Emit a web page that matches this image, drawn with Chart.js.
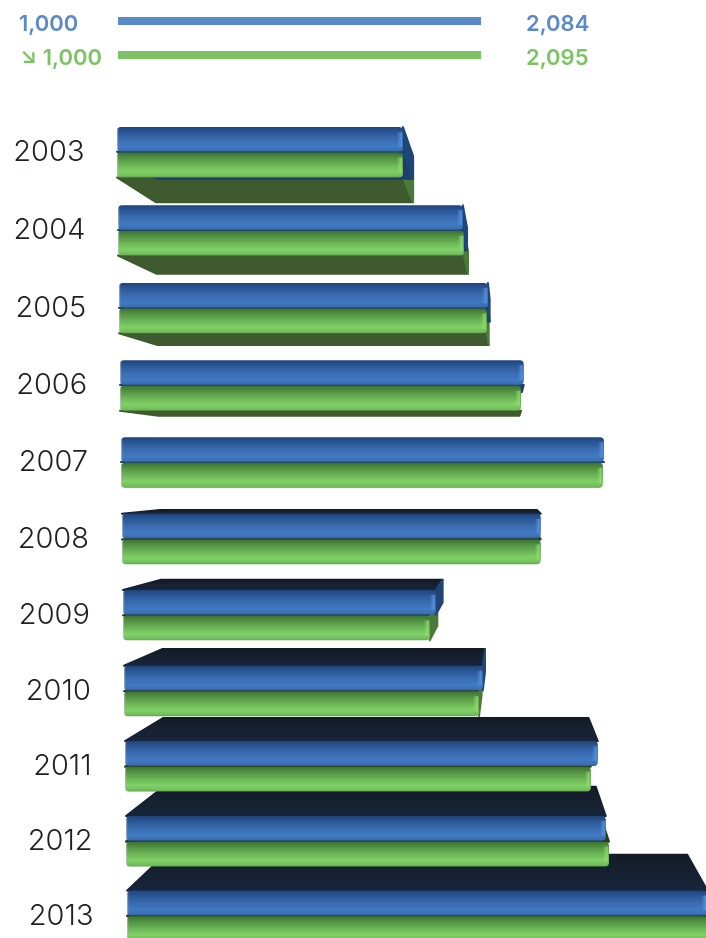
<!DOCTYPE html>
<html>
<head>
<meta charset="utf-8">
<title>Chart</title>
<script src="https://cdn.jsdelivr.net/npm/chart.js@4/dist/chart.umd.min.js"></script>
<style>
    html, body { margin: 0; padding: 0; width: 706px; height: 938px; overflow: hidden; background: #fff; }
    #wrap { position: relative; width: 706px; height: 938px; overflow: hidden; }
    canvas { position: absolute; left: 0; top: 0; }
    .lg { position: absolute; font: 600 22px Inter, sans-serif; line-height: 24px; white-space: nowrap; }
    .bar { position: absolute; left: 118px; width: 363px; height: 8px; }
    .blue { color: #5b8ac9; }
    .green { color: #7cc463; }
</style>
</head>
<body>
<div id="wrap">
    <canvas id="chart" width="706" height="960"></canvas>
    <div id="legend"></div>
</div>
<script>
const years = ['2003', '2004', '2005', '2006', '2007', '2008', '2009', '2010', '2011', '2012', '2013'];
const blueValues = [1534, 1644, 1689, 1754, 1902, 1782, 1584, 1670, 1883, 1896, 2084];
const greenValues = [1534, 1646, 1687, 1749, 1900, 1782, 1573, 1663, 1870, 1902, 2095];
const axisMin = 1000;
const axisMax = 2100;
const blueRange = ['1,000', '2,084'];
const greenRange = ['\u2198 1,000', '2,095'];

// perspective of the 3d box, depth goes towards this point
const vanishX = 505;
const vanishY = 470;
const depthX = 0.1;
const depthY = 0.085;

function backPoint(x, y) {
    return [x + depthX * (vanishX - x), y + depthY * (vanishY - y)];
}

function face(ctx, points, fill) {
    ctx.beginPath();
    ctx.moveTo(points[0][0], points[0][1]);
    points.slice(1).forEach(p => ctx.lineTo(p[0], p[1]));
    ctx.closePath();
    ctx.fillStyle = fill;
    ctx.strokeStyle = fill;
    ctx.lineWidth = 2;
    ctx.lineJoin = 'round';
    ctx.fill();
    ctx.stroke();
}

function drawFaces(ctx, box, look) {
    const { left, right, top, bottom } = box;
    const topGrad = ctx.createLinearGradient(0, backPoint(left, top)[1], 0, top);
    topGrad.addColorStop(0, look.topBack);
    topGrad.addColorStop(1, look.topFront);
    if (top > vanishY) {
        face(ctx, [[left, top], backPoint(left, top), backPoint(right, top), [right, top]], topGrad);
    }
    if (bottom < vanishY) {
        face(ctx, [[left, bottom], backPoint(left, bottom), backPoint(right, bottom), [right, bottom]], look.under);
    }
    // the end face only shows left of the vanishing point
    if (right < vanishX) {
        face(ctx, [[right, top], backPoint(right, top), backPoint(right, bottom), [right, bottom]], look.side);
    }
}

function drawFront(ctx, box, look) {
    const { left, right, top, bottom } = box;
    const grad = ctx.createLinearGradient(0, top, 0, bottom);
    look.front.forEach(s => grad.addColorStop(s[0], s[1]));
    ctx.save();
    ctx.beginPath();
    ctx.roundRect(left, top, right - left, bottom - top, 4);
    ctx.fillStyle = grad;
    ctx.fill();
    ctx.clip();
    // lit end of the tube
    const endGrad = ctx.createLinearGradient(right - 6, 0, right, 0);
    endGrad.addColorStop(0, look.rimOff);
    endGrad.addColorStop(0.7, look.rim);
    endGrad.addColorStop(1, look.rimEdge);
    ctx.fillStyle = endGrad;
    ctx.fillRect(right - 6, top + 5, 6, bottom - top - 10);
    ctx.fillStyle = 'rgba(190,195,200,0.6)';
    ctx.fillRect(left, top, 1.2, bottom - top);
    ctx.restore();
}

const blueLook = {
    front: [[0, '#1f4379'], [0.15, '#27528f'], [0.5, '#3a6cb0'], [0.78, '#4079c2'], [0.95, '#3a6eb3'], [1, '#2a5288']],
    topBack: '#141b27', topFront: '#18263a', under: '#1d3f6e', side: '#1f4676',
    rim: 'rgba(90,150,230,0.8)', rimOff: 'rgba(90,150,230,0)', rimEdge: 'rgba(60,110,180,0.7)'
};
const greenLook = {
    front: [[0, '#3c6f31'], [0.16, '#4c8a3e'], [0.5, '#6cb556'], [0.75, '#80d066'], [0.95, '#71bc5b'], [1, '#5a9a49']],
    topBack: '#26331a', topFront: '#2b3d1d', under: '#3f5a2e', side: '#4c7a39',
    rim: 'rgba(145,225,115,0.8)', rimOff: 'rgba(145,225,115,0)', rimEdge: 'rgba(95,150,75,0.7)'
};

// the reference is a render, rows creep right and bow a little
function rowBox(bar, row) {
    const lens = 2 - 0.2 * (row - 5) * (row - 5);
    return {
        left: bar.base + row,
        right: bar.x + row,
        top: bar.y - bar.height / 2 + lens,
        bottom: bar.y + bar.height / 2 + lens
    };
}

const boxPlugin = {
    id: 'boxPlugin',
    afterDatasetsDraw(chart) {
        const ctx = chart.ctx;
        const blueBars = chart.getDatasetMeta(0).data;
        const greenBars = chart.getDatasetMeta(1).data;
        const yScale = chart.scales.y;
        // bottom row first so upper rows sit over its top face
        for (let row = blueBars.length - 1; row >= 0; row--) {
            const blueBox = rowBox(blueBars[row], row);
            const greenBox = rowBox(greenBars[row], row);
            ctx.filter = 'blur(0.6px)';
            drawFaces(ctx, greenBox, greenLook);
            drawFaces(ctx, blueBox, blueLook);
            drawFront(ctx, greenBox, greenLook);
            drawFront(ctx, blueBox, blueLook);
            ctx.filter = 'none';

            ctx.fillStyle = '#231f20';
            ctx.font = '300 29px Inter, sans-serif';
            ctx.textAlign = 'right';
            ctx.textBaseline = 'middle';
            ctx.fillText(yScale.getLabelForValue(row), 84.5 + row * 0.9, (blueBox.bottom + greenBox.top) / 2);
        }
    }
};

function buildLegend() {
    const rows = [
        { range: blueRange, cls: 'blue', color: '#5b8ac9', textTop: 11, barTop: 17, minLeft: 19 },
        { range: greenRange, cls: 'green', color: '#7cc463', textTop: 45, barTop: 51, minLeft: 20 }
    ];
    document.getElementById('legend').innerHTML = rows.map(r =>
        `<div class="lg ${r.cls}" style="left:${r.minLeft}px;top:${r.textTop}px">${r.range[0]}</div>` +
        `<div class="bar" style="top:${r.barTop}px;background:${r.color}"></div>` +
        `<div class="lg ${r.cls}" style="left:526px;top:${r.textTop}px">${r.range[1]}</div>`
    ).join('');
}

document.addEventListener('DOMContentLoaded', function() {
    buildLegend();
    new Chart(document.getElementById('chart').getContext('2d'), {
        type: 'bar',
        data: {
            labels: years,
            datasets: [
                { label: 'Blue', data: blueValues, base: axisMin, backgroundColor: 'rgba(0,0,0,0)' },
                { label: 'Green', data: greenValues, base: axisMin, backgroundColor: 'rgba(0,0,0,0)' }
            ]
        },
        options: {
            indexAxis: 'y',
            responsive: false,
            animation: false,
            devicePixelRatio: 1,
            categoryPercentage: 0.67,
            barPercentage: 0.97,
            layout: { padding: { left: 117, top: 117, right: 0, bottom: 3 } },
            plugins: { legend: { display: false }, tooltip: { enabled: false } },
            scales: {
                x: { display: false, min: axisMin, max: axisMax },
                y: { display: false }
            }
        },
        plugins: [boxPlugin]
    });
});
</script>
</body>
</html>
